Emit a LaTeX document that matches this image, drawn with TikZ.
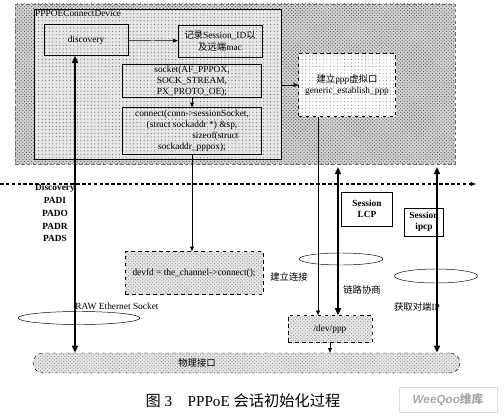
\documentclass[tikz,border=0pt]{standalone}
\usepackage{fontspec}
\setmainfont{Liberation Serif}
\newfontfamily\cjk{Noto Sans CJK SC}
\newfontfamily\wmfont{Liberation Sans}
\usepackage{tikz}
\usetikzlibrary{shapes.geometric,arrows.meta,positioning,calc,patterns}
\definecolor{DarkHatch}{HTML}{4A4A4A}
\definecolor{MidHatch}{HTML}{6E6E6E}
\definecolor{LightHatch}{HTML}{8A8A8A}
\definecolor{SoftGray}{HTML}{D2D2D2}
\definecolor{PaleGray}{HTML}{E6E6E6}
\definecolor{MarkGray}{HTML}{A8A8A8}
\tikzset{
  % Base box
  BX/.style={rectangle,draw,thin,inner sep=1pt,
             text centered,align=center,font=\footnotesize},
  % Bold box
  SB/.style={BX,font=\footnotesize\bfseries},
  % Dashed hatched box
  DX/.style={BX,dashed,preaction={fill=PaleGray},
             pattern=crosshatch dots,pattern color=LightHatch},
  % Ellipse ring
  EL/.style={ellipse,draw,thin,inner sep=0pt},
  % Arrows
  arr/.style={-{Triangle[length=4pt,width=3.2pt]},thin},
  tarr/.style={{Triangle[length=6pt,width=5pt]}-{Triangle[length=6pt,width=5pt]},
               line width=1.6pt},
  % Label style
  LB/.style={font=\footnotesize,inner sep=1pt}
}

\begin{document}
\begin{tikzpicture}[x=0.03cm,y=-0.03cm]
  \useasboundingbox (0,0) rectangle (504,418);

  %------ BACKGROUND ------
  \node[draw=MidHatch,densely dashed,preaction={fill=SoftGray},
        pattern=crosshatch dots,pattern color=DarkHatch,
        minimum width=13.2cm,minimum height=4.8cm,inner sep=0pt] (bg) at (235,84) {};
  \node[draw,thin,preaction={fill=PaleGray},pattern=dots,pattern color=MidHatch,
        minimum width=7.41cm,minimum height=4.5cm,inner sep=0pt] (dev) at (157.5,84) {};
  \node[LB,anchor=north west] (devname) at (dev.north west) {PPPOEConnectDevice};

  %------ PPPOE CONNECT DEVICE ------
  \node[BX,minimum width=2.52cm,minimum height=0.93cm] (disc) at (86,40) {discovery};
  \node[BX,minimum width=2.52cm,minimum height=0.96cm] (rec) at (220,41)
       {{\cjk 记录}Session\_ID{\cjk 以}\\{\cjk 及远端}mac};
  \node[BX,minimum width=4.17cm,minimum height=0.96cm] (sock) at (192,81)
       {socket(AF\_PPPOX,\\SOCK\_STREAM,\\PX\_PROTO\_OE);};
  \node[BX,minimum width=4.17cm,minimum height=1.41cm] (conn) at (192,131)
       {connect(conn->sessionSocket,\\(struct sockaddr *) \&sp,\\
        \hspace*{5em}sizeof(struct\\sockaddr\_pppox);};
  \node[BX,dashed,preaction={fill=white},pattern=dots,pattern color=LightHatch,
        minimum width=2.91cm,minimum height=1.89cm] (ppp) at (347,85)
       {{\cjk 建立}ppp{\cjk 虚拟口}\\generic\_establish\_ppp};

  %------ KERNEL SIDE ------
  \coordinate (lineL) at (0,184);
  \coordinate (lineR) at (476,184);
  \node[font=\footnotesize\bfseries,align=center,inner sep=0pt] (pads) at (55,213)
       {Discovery\\[1.5pt]PADI\\[1.5pt]PADO\\[1.5pt]PADR\\[1.5pt]PADS};
  \node[DX,minimum width=4.14cm,minimum height=1.29cm] (devfd) at (194,273)
       {devfd = the\_channel->connect();};
  \node[LB] (rawlbl) at (117,306) {RAW Ethernet Socket};
  \node[EL,minimum width=3.66cm,minimum height=0.39cm] (raw) at (79,318) {};
  \node[SB,minimum width=1.53cm,minimum height=1.02cm] (lcp) at (367,209) {Session\\LCP};
  \node[SB,minimum width=1.17cm,minimum height=0.84cm] (ipcp) at (424,222) {Session\\ipcp};
  \node[EL,minimum width=2.52cm,minimum height=0.36cm] (ring1) at (341,259) {};
  \node[EL,minimum width=2.49cm,minimum height=0.42cm] (ring2) at (436,276) {};
  \node[LB] (conlbl) at (289,277) {\cjk 建立连接};
  \node[LB] (lnklbl) at (362,290) {\cjk 链路协商};
  \node[LB] (iplbl) at (417,307) {{\cjk 获取对端}IP};
  \node[DX,minimum width=2.52cm,minimum height=0.81cm] (devppp) at (330,329) {/dev/ppp};
  \node[DX,rounded corners=0.3cm,minimum width=12.81cm,minimum height=0.6cm] (phys)
       at (246.5,363) {};
  \node[LB] (physlbl) at (197,363) {\cjk 物理接口};
  \coordinate (discLeg) at ($(disc.south)+(-11,0)$);
  \coordinate (pppLeg) at ($(ppp.south)+(-29,0)$);
  \coordinate (lcpTop) at (338,167);
  \coordinate (ipTop) at (437,167);

  %------ CAPTION ------
  \node[font=\fontsize{13}{15}\selectfont] (cap) at (243,401)
       {{\cjk 图} 3\quad PPPoE {\cjk 会话初始化过程}};
  \node[draw=gray!25,minimum width=2.94cm,minimum height=0.75cm,
        font=\wmfont\itshape\bfseries\normalsize,text=MarkGray] (mark) at (448,399.5)
       {WeeQoo{\upshape\cjk 维库}};

  % device arrows
  \draw[arr](disc)--(rec);
  \draw[arr](sock)--(conn);
  \draw[arr](ppp.west -| dev.east)--(ppp.west);

  % user / kernel border
  \draw[-{Stealth[length=5pt]},line width=0.9pt,dash pattern=on 3pt off 2pt](lineL)--(lineR);

  % down links
  \draw[arr](conn.south)--(conn.south |- devfd.north);
  \draw[arr](pppLeg)--(pppLeg |- devppp.north);
  \draw[arr](devppp.south)--(devppp.south |- phys.north);

  % packet flows
  \draw[tarr](discLeg)--(discLeg |- phys.north);
  \draw[tarr](lcpTop)--(lcpTop |- devppp.north);
  \draw[tarr](ipTop)--(ipTop |- phys.north);
\end{tikzpicture}
\end{document}
